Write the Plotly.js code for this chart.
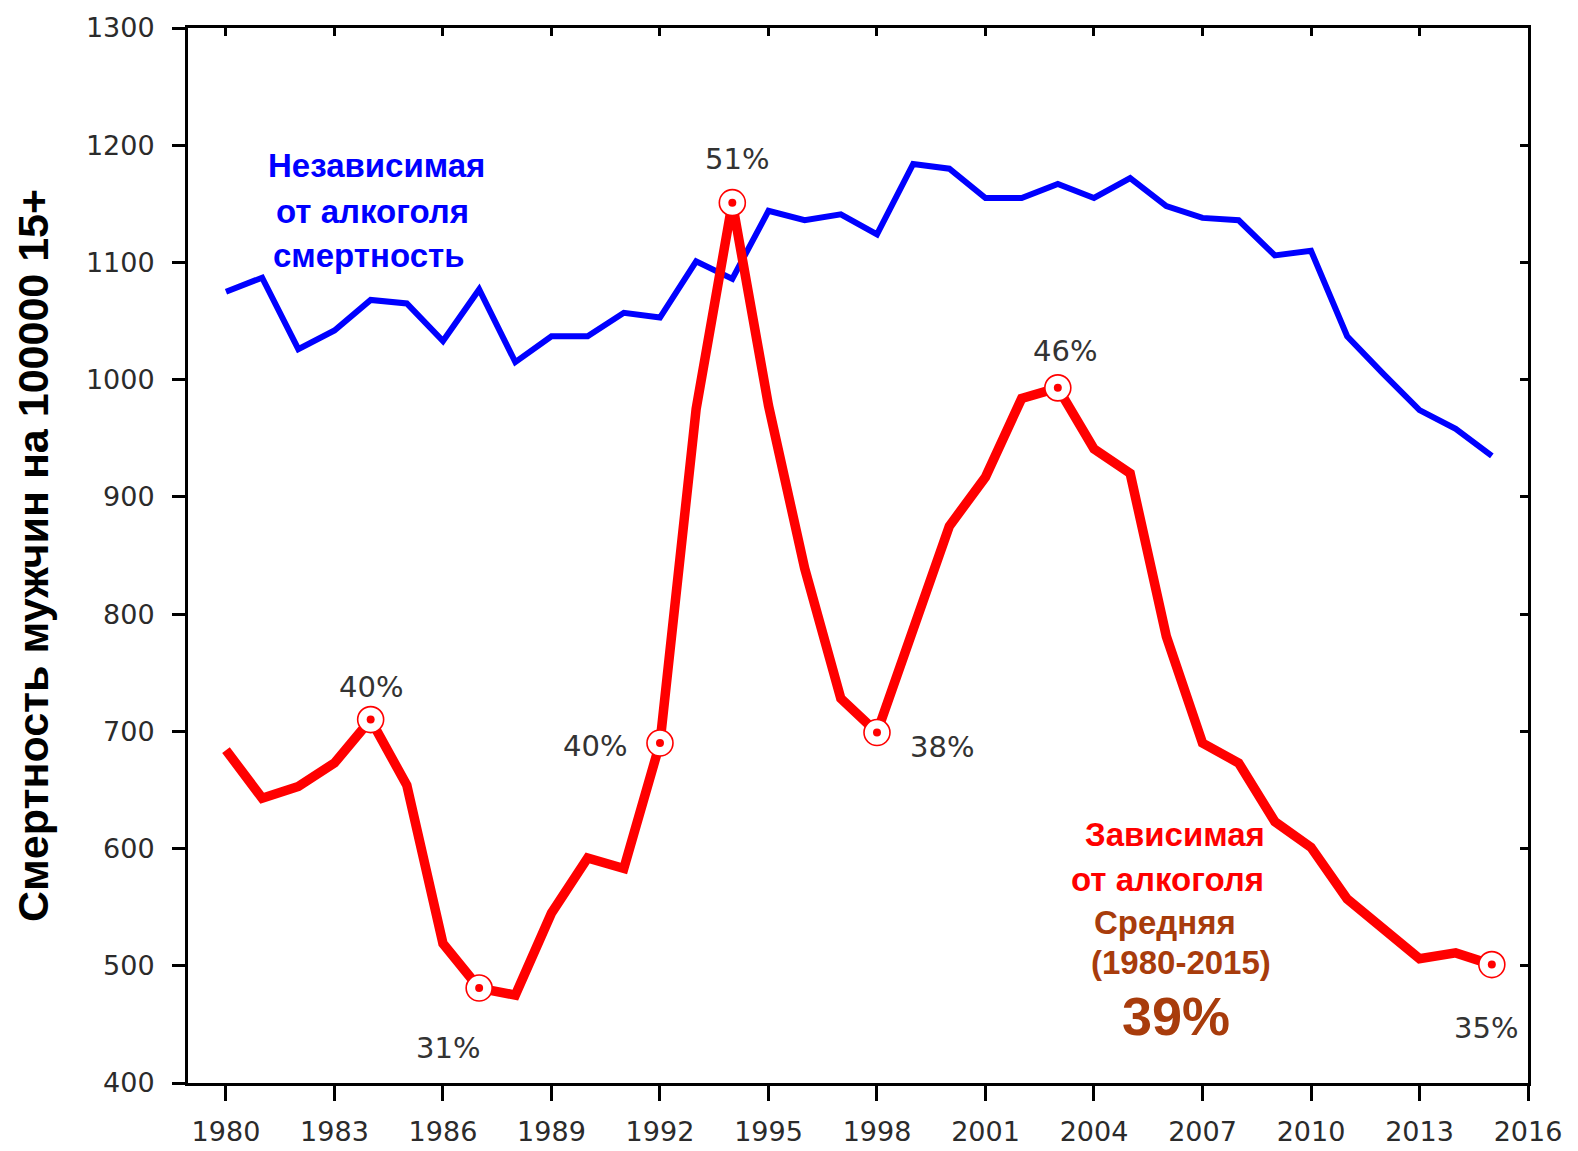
<!DOCTYPE html>
<html>
<head>
<meta charset="utf-8">
<script src="https://cdn.plot.ly/plotly-3.0.1.min.js"></script>
<style>
  html, body { margin: 0; padding: 0; background: #ffffff; }
  #chart { width: 1578px; height: 1151px; }
</style>
</head>
<body>
<div id="chart"></div>
<script>
// ---- Data ----
const years = [1980,1981,1982,1983,1984,1985,1986,1987,1988,1989,1990,1991,1992,1993,1994,1995,1996,1997,1998,1999,2000,2001,2002,2003,2004,2005,2006,2007,2008,2009,2010,2011,2012,2013,2014,2015];
const independentMortality = [1075,1087,1026,1042,1068,1065,1033,1077,1015,1037,1037,1057,1053,1101,1086,1144,1136,1141,1124,1184,1180,1155,1155,1167,1155,1172,1148,1138,1136,1106,1110,1037,1005,974,958,935];
const dependentMortality = [684,643,653,673,710,654,519,481,475,545,592,583,690,975,1151,978,839,728,699,787,875,917,984,993,941,920,781,690,673,623,601,557,532,506,511,501];

const markedYears = [1984,1987,1992,1994,1998,2003,2015];
const markedLabels = ['40%','31%','40%','51%','38%','46%','35%'];

const xTickVals = [1980,1983,1986,1989,1992,1995,1998,2001,2004,2007,2010,2013,2016];
const yTickVals = [400,500,600,700,800,900,1000,1100,1200,1300];

const yTitle = 'Смертность мужчин на 100000 15+';
const blueLabel = ['Независимая','от алкоголя','смертность'];
const redLabel = ['Зависимая','от алкоголя'];
const avgLabel = ['Средняя','(1980-2015)','39%'];

// ---- Derived ----
const markedValues = markedYears.map(y => dependentMortality[years.indexOf(y)]);

// label offsets in pixels relative to marked points (x right, y up)
const labelShifts = [[0,33],[-31,-60],[-65,-3],[5,44],[65,-14],[7,37],[-6,-63]];

const traces = [
  {
    x: years, y: independentMortality, type: 'scatter', mode: 'lines',
    line: {color: '#0000ff', width: 6}, hoverinfo: 'x+y', showlegend: false
  },
  {
    x: years, y: dependentMortality, type: 'scatter', mode: 'lines',
    line: {color: '#ff0000', width: 9.5}, hoverinfo: 'x+y', showlegend: false
  },
  {
    x: markedYears, y: markedValues, type: 'scatter', mode: 'markers',
    marker: {symbol: 'circle', size: 26, color: '#ffffff', line: {color: '#ff0000', width: 1.6}},
    hoverinfo: 'skip', showlegend: false
  },
  {
    x: markedYears, y: markedValues, type: 'scatter', mode: 'markers',
    marker: {symbol: 'circle', size: 8, color: '#ff0000'},
    hoverinfo: 'skip', showlegend: false
  },
  // dummy trace so the mirrored inner-tick axes are drawn
  { x: [1980], y: [null], xaxis: 'x2', yaxis: 'y2', type: 'scatter', mode: 'lines', showlegend: false, hoverinfo: 'skip' }
];

const annotations = [];
markedYears.forEach((yr, i) => {
  annotations.push({
    x: yr, y: markedValues[i], xref: 'x', yref: 'y', text: markedLabels[i],
    showarrow: false, xshift: labelShifts[i][0], yshift: labelShifts[i][1],
    font: {family: 'DejaVu Sans, Arial, sans-serif', size: 29, color: '#333333'}
  });
});

const bluePos = [[1984.17,1182.3],[1984.04,1143.3],[1983.95,1106.3]];
blueLabel.forEach((t, i) => annotations.push({
  x: bluePos[i][0], y: bluePos[i][1], xref: 'x', yref: 'y', text: '<b>' + t + '</b>', showarrow: false,
  font: {family: 'Liberation Sans, Arial, sans-serif', size: 33, color: '#0000ff'}
}));

const redPos = [[2006.24,611.6],[2006.04,574]];
redLabel.forEach((t, i) => annotations.push({
  x: redPos[i][0], y: redPos[i][1], xref: 'x', yref: 'y', text: '<b>' + t + '</b>', showarrow: false,
  font: {family: 'Liberation Sans, Arial, sans-serif', size: 33, color: '#ff0000'}
}));

const avgPos = [[2005.96,536.5],[2006.40,503.2],[2006.26,457.1]];
const avgSizes = [33, 33, 54];
avgLabel.forEach((t, i) => annotations.push({
  x: avgPos[i][0], y: avgPos[i][1], xref: 'x', yref: 'y', text: '<b>' + t + '</b>', showarrow: false,
  font: {family: 'Liberation Sans, Arial, sans-serif', size: avgSizes[i], color: '#a83c0c'}
}));

const tickFont = {family: 'DejaVu Sans, Arial, sans-serif', size: 27, color: '#2b2b2b'};

const layout = {
  width: 1578, height: 1151,
  margin: {l: 188, r: 50, t: 28, b: 68, pad: 0},
  paper_bgcolor: '#ffffff', plot_bgcolor: '#ffffff',
  showlegend: false,
  xaxis: {
    range: [1978.95, 2016], tickmode: 'array', tickvals: xTickVals,
    ticks: 'outside', ticklen: 15, tickwidth: 3, tickcolor: '#000',
    showline: true, linecolor: '#000', linewidth: 3, mirror: true,
    showgrid: false, zeroline: false, tickfont: tickFont, ticklabelstandoff: 8
  },
  yaxis: {
    range: [400, 1300], tickmode: 'array', tickvals: yTickVals,
    ticks: 'outside', ticklen: 13, tickwidth: 3, tickcolor: '#000',
    showline: true, linecolor: '#000', linewidth: 3, mirror: true,
    showgrid: false, zeroline: false, tickfont: tickFont, ticklabelstandoff: 12,
    title: {text: '<b>' + yTitle + '</b>', standoff: 24,
      font: {family: 'Liberation Sans, Arial, sans-serif', size: 43, color: '#000000'}}
  },
  xaxis2: {
    overlaying: 'x', side: 'top', range: [1978.95, 2016], tickmode: 'array', tickvals: xTickVals,
    ticks: 'inside', ticklen: 8, tickwidth: 3, tickcolor: '#000', showticklabels: false,
    showgrid: false, zeroline: false, showline: false
  },
  yaxis2: {
    overlaying: 'y', side: 'right', range: [400, 1300], tickmode: 'array', tickvals: yTickVals,
    ticks: 'inside', ticklen: 8, tickwidth: 3, tickcolor: '#000', showticklabels: false,
    showgrid: false, zeroline: false, showline: false
  },
  annotations: annotations
};

Plotly.newPlot('chart', traces, layout, {displayModeBar: false, responsive: false});
</script>
</body>
</html>
